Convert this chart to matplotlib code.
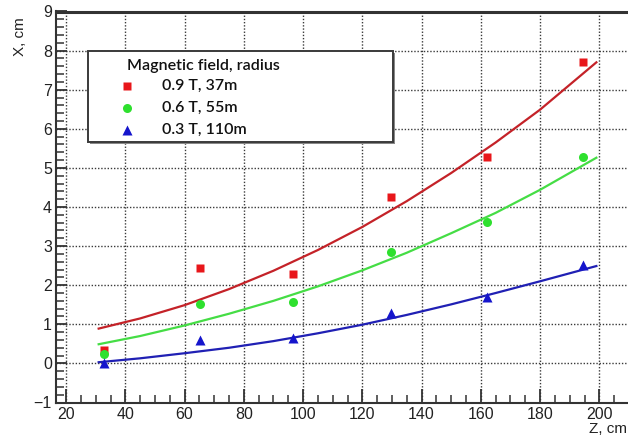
import matplotlib
matplotlib.use("Agg")
import matplotlib.pyplot as plt
from matplotlib.lines import Line2D
from matplotlib.patches import Rectangle
from matplotlib.ticker import MultipleLocator

# ---- data ----
z_points = [32.8, 65.3, 96.7, 129.7, 162.0, 194.5]
x_red = [0.33, 2.45, 2.29, 4.25, 5.27, 7.72]
x_green = [0.23, 1.52, 1.56, 2.86, 3.62, 5.29]
x_blue = [0.0, 0.60, 0.66, 1.28, 1.71, 2.51]

z_fit = [31, 45, 60, 75, 90, 105, 120, 135, 150, 165, 180, 199]
fit_red = [0.89, 1.15, 1.49, 1.90, 2.37, 2.90, 3.49, 4.15, 4.87, 5.65, 6.49, 7.70]
fit_green = [0.49, 0.70, 0.97, 1.27, 1.60, 1.97, 2.38, 2.83, 3.33, 3.85, 4.44, 5.26]
fit_blue = [0.03, 0.13, 0.26, 0.40, 0.57, 0.77, 0.99, 1.24, 1.51, 1.80, 2.10, 2.49]

x_ticks = [20, 40, 60, 80, 100, 120, 140, 160, 180, 200]
y_ticks = [-1, 0, 1, 2, 3, 4, 5, 6, 7, 8, 9]

legend_title = "Magnetic field, radius"
labels = ["0.9 T, 37m", "0.6 T, 55m", "0.3 T, 110m"]
xlabel = "Z, cm"
ylabel = "X, cm"

W, H = 628, 437
fig = plt.figure(figsize=(W / 100, H / 100), dpi=100)
fig.patch.set_facecolor("white")

def fx(px):
    return px / W

def fy(py):
    return 1 - py / H

x0, x1 = 16.6, 212.0
left_px = 56
right_px = 66 + (x1 - 20) * 2.963
ax = fig.add_axes([fx(left_px), fy(402.5), fx(right_px - left_px), (402.5 - 11.5) / H])

c_red_pt, c_green_pt, c_blue_pt = "#e8161a", "#2ee02e", "#1515cc"
c_red_ln, c_green_ln, c_blue_ln = "#c42228", "#45dd45", "#2020b4"

ax.plot(z_fit, fit_red, color=c_red_ln, lw=1.6, zorder=3)
ax.plot(z_fit, fit_green, color=c_green_ln, lw=1.6, zorder=3)
ax.plot(z_fit, fit_blue, color=c_blue_ln, lw=1.6, zorder=3)

ax.plot(z_points, x_red, "s", color=c_red_pt, ms=6.0, mec="none", zorder=4)
ax.plot(z_points, x_green, "o", color=c_green_pt, ms=6.5, mec="none", zorder=4)
ax.plot(z_points, x_blue, "^", color=c_blue_pt, ms=6.5, mec="none", zorder=4)

ax.xaxis.set_minor_locator(MultipleLocator(5))
ax.yaxis.set_minor_locator(MultipleLocator(0.2))
ax.set_xticks(x_ticks)
ax.set_xticklabels([str(v) for v in x_ticks], family="Liberation Sans")
ax.set_yticks(y_ticks)
ax.set_yticklabels([("\u2212" + str(-v)) if v < 0 else str(v) for v in y_ticks],
                   family="Liberation Sans")
ax.set_xlim(x0, x1)
ax.set_ylim(-1, 9)
ax.grid(True, which="major", linestyle=(0, (1, 1.3)), color="#3a3a3a", lw=1.0)
ax.set_axisbelow(True)

ax.tick_params(axis="x", which="major", direction="in", length=10, width=1.3,
               color="#333333", pad=3, labelsize=11.5, labelcolor="#222222")
ax.tick_params(axis="x", which="minor", direction="in", length=5.5, width=1.1, color="#333333")
ax.tick_params(axis="y", which="major", direction="in", length=8, width=1.3,
               color="#333333", pad=3, labelsize=11.5, labelcolor="#222222")
ax.tick_params(axis="y", which="minor", direction="in", length=6, width=1.1, color="#333333")

for s in ["left", "bottom"]:
    ax.spines[s].set_linewidth(1.5)
    ax.spines[s].set_color("#333333")
ax.spines["top"].set_linewidth(2.2)
ax.spines["top"].set_color("#333333")
ax.spines["right"].set_visible(False)

# axis labels (ROOT style)
fig.text(fx(20), fy(17), ylabel, rotation=90, ha="center", va="top",
         family="Liberation Sans", fontsize=11, color="#222222")
fig.text(fx(627), fy(436), xlabel, ha="right", va="bottom",
         family="Liberation Sans", fontsize=11, color="#222222")

# legend box
lx0, ly0, lx1, ly1 = 88, 51, 393, 142
shadow = Rectangle((fx(lx0 + 1.5), fy(ly1 + 1.5)), fx(lx1 - lx0), (ly1 - ly0) / H,
                   transform=fig.transFigure, facecolor="#888888", edgecolor="none",
                   zorder=9)
fig.patches.append(shadow)
rect = Rectangle((fx(lx0), fy(ly1)), fx(lx1 - lx0), (ly1 - ly0) / H,
                 transform=fig.transFigure, facecolor="white", edgecolor="#3a3a3a",
                 lw=1.4, zorder=10)
fig.patches.append(rect)
legfont = dict(family="Lato", fontsize=11.5, color="#111111", fontweight="semibold")
fig.text(fx(127), fy(66), legend_title, ha="left", va="center", zorder=11, **legfont)
markers = [("s", c_red_pt, 6.0), ("o", c_green_pt, 6.5), ("^", c_blue_pt, 6.5)]
ys = [86, 108, 130]
for (m, c, ms), lab, yy in zip(markers, labels, ys):
    fig.add_artist(Line2D([fx(127)], [fy(yy)], marker=m, color=c, ms=ms, mec="none",
                          transform=fig.transFigure, zorder=11))
    fig.text(fx(162), fy(yy), lab, ha="left", va="center", zorder=11, **legfont)

fig.savefig("out.png", dpi=100)
